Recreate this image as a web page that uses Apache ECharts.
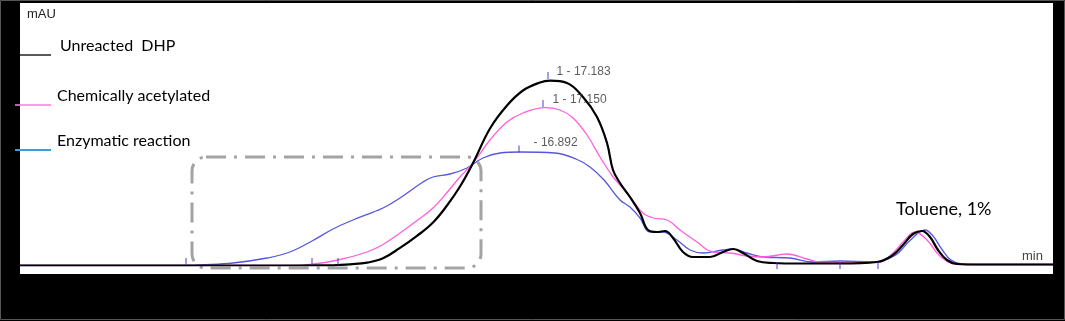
<!DOCTYPE html>
<html>
<head>
<meta charset="utf-8">
<script src="https://cdn.jsdelivr.net/npm/echarts@6/dist/echarts.min.js"></script>
<style>
html,body{margin:0;padding:0;background:#000;}
#chart{width:1065px;height:321px;}
</style>
</head>
<body>
<div id="chart"></div>
<script>
// Retention time (min) and absorbance (mAU, arbitrary units)
const unreactedTime = [11.90,14.70,15.00,15.08,15.20,15.37,15.53,15.70,15.87,16.03,16.17,16.30,16.43,16.60,16.77,16.93,17.10,17.20,17.37,17.53,17.67,17.77,17.83,17.90,18.00,18.10,18.18,18.27,18.35,18.43,18.53,18.63,18.80,18.93,19.03,19.13,19.27,19.43,19.70,20.10,20.47,20.63,20.73,20.83,20.92,21.00,21.08,21.17,21.27,21.50,22.23];
const unreactedValue = [0,0,0.1,0.25,0.6,1.4,3.6,8.8,14.8,21.5,30,39.5,51.25,68.5,80,87.5,91.5,92.4,91.25,84.25,74.25,61.25,47.75,41.25,34.25,26.25,17.75,16.75,17.25,13.75,6.75,4.25,4.25,6.75,8.25,6.25,2.25,1.25,1.0,1.0,1.75,5.25,10.25,15.75,17.25,14.25,7.75,2.75,0.75,0.5,0.5];

const acetylTime = [11.90,14.60,14.80,15.08,15.37,15.53,15.70,15.87,16.03,16.17,16.30,16.43,16.60,16.77,16.93,17.15,17.30,17.43,17.57,17.70,17.82,17.90,18.00,18.13,18.23,18.37,18.50,18.67,18.83,19.00,19.17,19.33,19.57,19.77,19.90,20.20,20.50,20.63,20.73,20.85,20.97,21.07,21.15,21.25,21.50,22.23];
const acetylValue = [0,0,0.5,2.75,6.75,10.5,16.25,22.5,28.75,36.5,44.25,51.25,62.75,71.75,76.25,78.9,77.75,73.75,65.25,54.25,45,40.25,34.25,26.25,23.75,22.75,17.75,11.75,6.75,6.25,4.75,4.25,5.75,3.25,1.75,1.5,1.75,6.25,11.75,16.75,12.75,6.25,2.75,0.75,0.5,0.5];

const enzymaticTime = [11.90,13.60,13.70,14.03,14.37,14.60,14.82,15.03,15.23,15.53,15.70,15.93,16.03,16.20,16.37,16.53,16.70,16.90,17.25,17.46,17.60,17.74,17.90,18.00,18.10,18.20,18.33,18.47,18.60,18.73,18.93,19.03,19.17,19.33,19.60,19.83,20.10,20.43,20.65,20.80,20.95,21.03,21.12,21.21,21.32,21.60,22.23];
const enzymaticValue = [0,0,0.25,1.25,3.75,6.75,12.25,18.25,22.75,28.75,33.75,41.75,44.25,45.75,48.75,53.75,56.25,56.75,56.25,53.25,49.25,42.75,32.75,29.25,23.75,16.75,16.75,12.75,7.75,6.25,7.75,8.25,6.25,4.25,3.75,1.75,2.25,1.75,5.0,12.5,17.75,14.75,8.0,2.75,0.75,0.5,0.5];

// Integration / peak markers
const peakMarkTime = [17.18,17.13,16.89];
const peakMarkValue = [95,81,58.25];
const peakLabels = ['1 - 17.183','1 - 17.150','- 16.892'];
const baseMarkTime = [13.56,14.82,15.08,19.47,20.10,20.48];
const baseMarkValue = [2,2,2,0,0,0];

const seriesNames = ['Unreacted  DHP','Chemically acetylated','Enzymatic reaction'];
const annotationText = 'Toluene, 1%';
const yUnit = 'mAU';
const xUnit = 'min';

function pairs(t, v){ return t.map((x,i)=>[x, v[i]]); }

const chart = echarts.init(document.getElementById('chart'));
const W = 1065, H = 321;
const labelOffsets = [[3,-4],[4,-4],[9,-6]];

chart.setOption({
  backgroundColor: '#000',
  animation: false,
  grid: {left: 20, right: 12, top: 5.5, bottom: 55.5},
  xAxis: {type: 'value', min: 11.9, max: 22.23, show: false},
  yAxis: {type: 'value', min: 0, max: 130, show: false},
  graphic: [
    {type: 'rect', z: -10, shape: {x: 20, y: 3, width: 1033, height: 271}, style: {fill: '#fff'}},
    {type: 'rect', z: 10, shape: {x: 0.5, y: 0.5, width: W-1, height: H-2}, style: {fill: null, stroke: '#555', lineWidth: 1}},
    {type: 'rect', z: 1, shape: {x: 192, y: 157, width: 289, height: 111, r: 14},
      style: {fill: null, stroke: '#a3a3a3', lineWidth: 3, lineDash: [20, 8, 3, 8]}},
    {type: 'text', z: 20, left: 27, top: 8, style: {text: yUnit, fill: '#222', font: '13px "Liberation Sans", Arial, sans-serif'}},
    {type: 'text', z: 20, left: 1022, top: 250, style: {text: xUnit, fill: '#444', font: '13px "Liberation Sans", Arial, sans-serif'}},
    {type: 'text', z: 20, left: 896, top: 200, style: {text: annotationText, fill: '#000', font: '18px Lato, sans-serif'}},
    {type: 'line', z: 20, shape: {x1: 20, y1: 55, x2: 51, y2: 55}, style: {stroke: '#222', lineWidth: 1.5}},
    {type: 'line', z: 20, shape: {x1: 15, y1: 105, x2: 51, y2: 105}, style: {stroke: '#ff7de0', lineWidth: 1.5}},
    {type: 'line', z: 20, shape: {x1: 15, y1: 150, x2: 51, y2: 150}, style: {stroke: '#3a9fd6', lineWidth: 2}},
    {type: 'text', z: 20, left: 60, top: 38, style: {text: seriesNames[0], fill: '#000', font: '16px Lato, sans-serif'}},
    {type: 'text', z: 20, left: 57, top: 88, style: {text: seriesNames[1], fill: '#000', font: '16px Lato, sans-serif'}},
    {type: 'text', z: 20, left: 57, top: 133, style: {text: seriesNames[2], fill: '#000', font: '16px Lato, sans-serif'}}
  ],
  series: [
    {name: seriesNames[2], type: 'line', data: pairs(enzymaticTime, enzymaticValue), smooth: 0.4, showSymbol: false,
      lineStyle: {color: '#5656e0', width: 1.3}, z: 3},
    {name: seriesNames[1], type: 'line', data: pairs(acetylTime, acetylValue), smooth: 0.4, showSymbol: false,
      lineStyle: {color: '#ff5fdc', width: 1.3}, z: 4},
    {name: seriesNames[0], type: 'line', data: pairs(unreactedTime, unreactedValue), smooth: 0.4, showSymbol: false,
      lineStyle: {color: '#000', width: 2.2}, z: 5},
    {type: 'scatter', clip: false, z: 6, symbol: 'rect', symbolSize: [1.2, 7],
      itemStyle: {color: '#3b3bc4'},
      data: peakMarkTime.map((t,i)=>({value: [t, peakMarkValue[i]],
        label: {show: true, position: 'right', offset: labelOffsets[i], formatter: peakLabels[i],
          color: '#333', fontSize: 12, fontFamily: '"Liberation Sans", Arial, sans-serif'}}))},
    {type: 'scatter', clip: false, z: 6, symbol: 'rect', symbolSize: [1.2, 7],
      itemStyle: {color: '#3b3bc4'},
      data: pairs(baseMarkTime, baseMarkValue)}
  ]
});
</script>
</body>
</html>
